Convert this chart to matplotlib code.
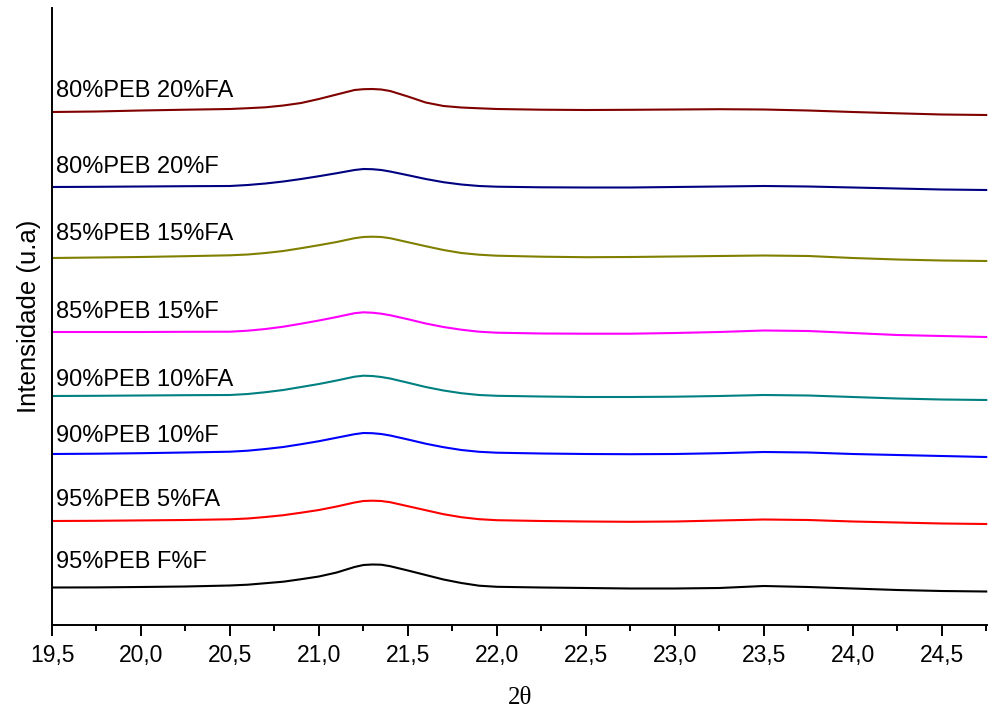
import matplotlib
matplotlib.use('Agg')
import matplotlib.pyplot as plt
from matplotlib.ticker import MultipleLocator, FuncFormatter

# 2theta sample positions (denser around the 21.3 peak)
two_theta = [19.5, 19.75, 20.0, 20.25, 20.5, 20.6, 20.7, 20.8, 20.9, 21.0, 21.1, 21.2, 21.25, 21.3,
             21.35, 21.4, 21.5, 21.6, 21.7, 21.8, 21.9, 22.0, 22.25, 22.5, 22.75, 23.0, 23.25, 23.5,
             23.75, 24.0, 24.25, 24.5, 24.75]

# stacked intensities (already offset, arbitrary units)
i_95_f = [37.5, 37.6, 38.0, 38.5, 39.5, 40.3, 41.8, 43.3, 45.8, 48.5, 52.5, 58.0, 60.0, 60.5,
          60.3, 58.8, 54.5, 50.0, 45.5, 42.0, 39.3, 38.2, 37.5, 37.0, 36.5, 36.5, 37.0, 39.0,
          38.0, 36.5, 35.0, 34.0, 33.5]
i_95_5fa = [104.0, 104.2, 104.6, 105.0, 105.7, 106.5, 108.0, 109.8, 112.3, 115.0, 118.5, 122.5, 124.0, 124.3,
            124.0, 122.8, 118.8, 114.8, 110.8, 107.8, 105.8, 104.8, 104.0, 103.5, 103.2, 103.5, 104.5, 105.5,
            105.0, 103.5, 102.5, 101.5, 101.0]
i_90_10f = [171.0, 171.3, 171.8, 172.5, 173.3, 174.3, 176.0, 178.0, 180.8, 183.8, 187.3, 190.8, 192.0, 191.8,
            191.0, 189.5, 185.5, 181.3, 177.8, 175.0, 173.2, 172.3, 171.5, 171.0, 170.8, 171.0, 171.8, 173.0,
            172.5, 171.0, 170.0, 169.0, 168.0]
i_90_10fa = [229.0, 229.2, 229.5, 229.8, 230.0, 231.0, 232.8, 235.0, 238.0, 241.0, 244.5, 248.3, 249.3, 249.0,
             248.0, 246.5, 242.3, 238.0, 234.5, 231.8, 230.0, 229.2, 228.5, 228.0, 228.0, 228.3, 229.0, 230.0,
             229.5, 228.0, 226.5, 225.5, 225.0]
i_85_15f = [293.0, 293.0, 293.0, 293.2, 293.3, 294.3, 296.0, 298.3, 301.3, 304.5, 308.0, 311.8, 312.7, 312.3,
            311.3, 309.8, 305.8, 301.5, 298.0, 295.3, 293.3, 292.3, 291.5, 291.3, 291.3, 292.0, 293.0, 294.5,
            294.0, 292.0, 290.0, 289.0, 288.0]
i_85_15fa = [367.0, 367.5, 368.0, 368.8, 369.7, 370.5, 372.0, 374.0, 376.8, 379.8, 383.0, 386.8, 388.0, 388.3,
             388.0, 386.8, 382.8, 378.8, 375.0, 372.0, 370.3, 369.3, 368.3, 367.8, 368.0, 368.5, 369.0, 369.5,
             369.0, 367.0, 365.5, 364.5, 364.0]
i_80_20f = [438.0, 438.2, 438.5, 438.8, 439.0, 440.0, 441.5, 443.5, 446.0, 448.8, 451.8, 455.0, 456.0, 455.8,
            455.0, 453.5, 449.8, 446.0, 442.8, 440.5, 439.0, 438.3, 437.7, 437.5, 437.5, 438.0, 438.5, 439.0,
            438.5, 437.5, 436.5, 435.5, 435.0]
i_80_20fa = [513.0, 513.5, 514.5, 515.3, 516.0, 516.8, 517.7, 519.5, 522.0, 526.0, 530.5, 535.0, 535.8, 536.0,
             535.5, 534.0, 528.5, 522.5, 519.0, 517.5, 516.7, 516.0, 515.3, 515.0, 515.2, 515.5, 515.8, 515.5,
             514.5, 513.0, 511.7, 510.5, 510.0]

names = ['95%PEB F%F', '95%PEB 5%FA', '90%PEB 10%F', '90%PEB 10%FA',
         '85%PEB 15%F', '85%PEB 15%FA', '80%PEB 20%F', '80%PEB 20%FA']
series = [i_95_f, i_95_5fa, i_90_10f, i_90_10fa, i_85_15f, i_85_15fa, i_80_20f, i_80_20fa]
label_y = [57, 119.5, 183.5, 238.5, 306.5, 385, 452, 528]
colors = ['#000000', '#ff0000', '#0000ff', '#008080', '#ff00ff', '#808000', '#000080', '#800000']

plt.rcParams['font.family'] = ['Liberation Sans', 'DejaVu Sans']

fig = plt.figure(figsize=(9.88, 7.15), dpi=100)
ax = fig.add_axes([52 / 988, 90 / 715, 1 - 52 / 988, 617 / 715])

for y, name, ly, c in zip(series, names, label_y, colors):
    ax.plot(two_theta, y, color=c, lw=1.5, solid_joinstyle='round')
    ax.text(19.52, ly, name, fontsize=17, va='baseline', ha='left')

ax.set_xlim(19.5, 24.76)
ax.set_ylim(0, 617)
ax.spines['top'].set_visible(False)
ax.spines['right'].set_visible(False)
ax.spines['left'].set_linewidth(1.4)
ax.spines['bottom'].set_linewidth(1.4)
ax.set_yticks([])

ax.xaxis.set_major_locator(MultipleLocator(0.5))
ax.xaxis.set_minor_locator(MultipleLocator(0.25))
ax.xaxis.set_major_formatter(FuncFormatter(lambda v, p: ('%.1f' % v).replace('.', ',')))
ax.tick_params(axis='x', which='major', length=8, width=1.4, labelsize=16.5, pad=6)
ax.tick_params(axis='x', which='minor', length=4.5, width=1.4)

ax.set_xlabel('2θ', fontsize=18, family='Liberation Serif', labelpad=14)
ax.set_ylabel('Intensidade (u.a)', fontsize=18.5, labelpad=8)

fig.savefig('out.png', dpi=100)
